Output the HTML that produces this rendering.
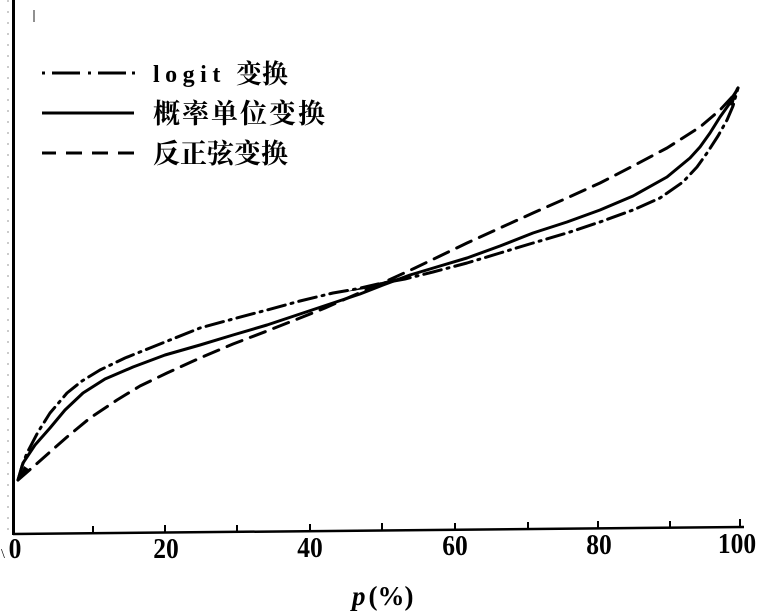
<!DOCTYPE html>
<html>
<head>
<meta charset="utf-8">
<style>
  html,body{margin:0;padding:0;background:#fff;}
  svg{display:block;}
  .cjk{font-family:"Liberation Serif","Noto Serif CJK SC","Noto Sans CJK SC",serif;font-weight:bold;}
  .num{font-family:"Liberation Serif",serif;font-weight:bold;}
</style>
</head>
<body>
<svg width="758" height="614" viewBox="0 0 758 614" xmlns="http://www.w3.org/2000/svg">
  <rect width="758" height="614" fill="#fff"/>

  <!-- faint scan noise on left -->
  <line x1="8" y1="0" x2="8" y2="530" stroke="#999" stroke-width="1" stroke-dasharray="2 9"/>
  <line x1="34" y1="10" x2="34" y2="22" stroke="#222" stroke-width="1"/>

  <!-- axes -->
  <line x1="13.5" y1="0" x2="13.5" y2="535" stroke="#000" stroke-width="3"/>
  <line x1="13" y1="534" x2="744" y2="527" stroke="#000" stroke-width="2.5"/>

  <!-- ticks -->
  <g stroke="#000" stroke-width="2">
    <line x1="93" y1="533" x2="93" y2="526"/>
    <line x1="165" y1="533" x2="165" y2="525"/>
    <line x1="237" y1="532" x2="237" y2="525"/>
    <line x1="310" y1="531" x2="310" y2="524"/>
    <line x1="382" y1="531" x2="382" y2="523"/>
    <line x1="455" y1="530" x2="455" y2="523"/>
    <line x1="528" y1="529" x2="528" y2="522"/>
    <line x1="598" y1="529" x2="598" y2="521"/>
    <line x1="670" y1="528" x2="670" y2="521"/>
    <line x1="740" y1="527" x2="740" y2="519"/>
  </g>

  <!-- tick labels -->
  <g class="num" font-size="29" fill="#000" text-anchor="middle">
    <text x="3" y="558" font-size="14" font-weight="normal">\</text>
    <text x="15" y="558" transform="translate(15 0) scale(0.88 1) translate(-15 0)">0</text>
    <text x="166" y="558" transform="translate(166 0) scale(0.88 1) translate(-166 0)">20</text>
    <text x="310" y="557" transform="translate(310 0) scale(0.88 1) translate(-310 0)">40</text>
    <text x="455" y="555" transform="translate(455 0) scale(0.88 1) translate(-455 0)">60</text>
    <text x="599" y="554" transform="translate(599 0) scale(0.88 1) translate(-599 0)">80</text>
    <text x="737" y="553" transform="translate(737 0) scale(0.88 1) translate(-737 0)">100</text>
  </g>

  <!-- x axis title -->
  <text x="352" y="605" font-family="Liberation Serif, serif" font-size="27" font-weight="bold" fill="#000"><tspan font-style="italic">p</tspan><tspan dx="3">(%)</tspan></text>

  <!-- legend -->
  <g stroke="#000" stroke-width="3" fill="none">
    <path d="M42 73 L45 73 M52 73 L80 73 M88 73 L91 73 M98 73 L126 73 M132 73 L135 73"/>
    <line x1="42" y1="113" x2="134" y2="113"/>
    <path d="M42 153 L56 153 M66 153 L82 153 M92 153 L108 153 M118 153 L134 153"/>
  </g>
  <text x="153" y="82" font-family="Liberation Serif, serif" font-weight="bold" font-size="24" letter-spacing="5.5" fill="#000">logit</text>
  <text x="236" y="83" class="cjk" font-size="26" fill="#000">变换</text>
  <text x="153" y="123" class="cjk" font-size="27" letter-spacing="2" fill="#000">概率单位变换</text>
  <text x="153" y="163" class="cjk" font-size="27" letter-spacing="0" fill="#000">反正弦变换</text>

  <!-- curves -->
  <g fill="none" stroke="#000" stroke-width="3" stroke-linejoin="round" stroke-linecap="round">
    <!-- probit (solid) -->
    <polyline points="18,480 23,463 35,445 50,428 65,410 83,393 105,379 133,367 165,355 200,345 233,335 267,325 300,314 333,303 360,294 383,285 410,275 440,266 467,258 500,246 533,233 567,222 600,210 633,196 667,177 690,158 700,147 710,133 720,117 730,103 738,88"/>
    <!-- logit (dash-dot) -->
    <polyline stroke-dasharray="18 6 2 6" points="18,480 22,466 27,453 38,432 50,413 67,393 82,381 100,370 125,358 150,348 175,338 200,328 233,319 267,310 300,301 333,293 356,289 378,284 405,279 433,272 467,263 500,253 533,243 567,233 600,222 633,210 660,198 683,182 697,167 707,153 718,136 727,120 733,106 738,88"/>
    <!-- arcsine (dashed) -->
    <polyline stroke-dasharray="16 9" points="18,480 33,467 50,452 67,437 90,418 117,400 140,386 167,373 200,358 233,344 267,331 300,318 325,308 350,297 378,285 415,268 440,256 467,243 500,228 533,213 567,198 600,183 633,166 667,148 700,127 720,110 733,96 738,88"/>
  </g>
  <!-- merged arrow-like ends -->
  <path d="M738 86 L726 104 L733 106 Z" fill="#000"/>
  <path d="M18 481 L24 466 L30 470 Z" fill="#000"/>
  <path d="M345 292 L378 283 L410 275 L378 287 Z" fill="#000"/>
</svg>
</body>
</html>
